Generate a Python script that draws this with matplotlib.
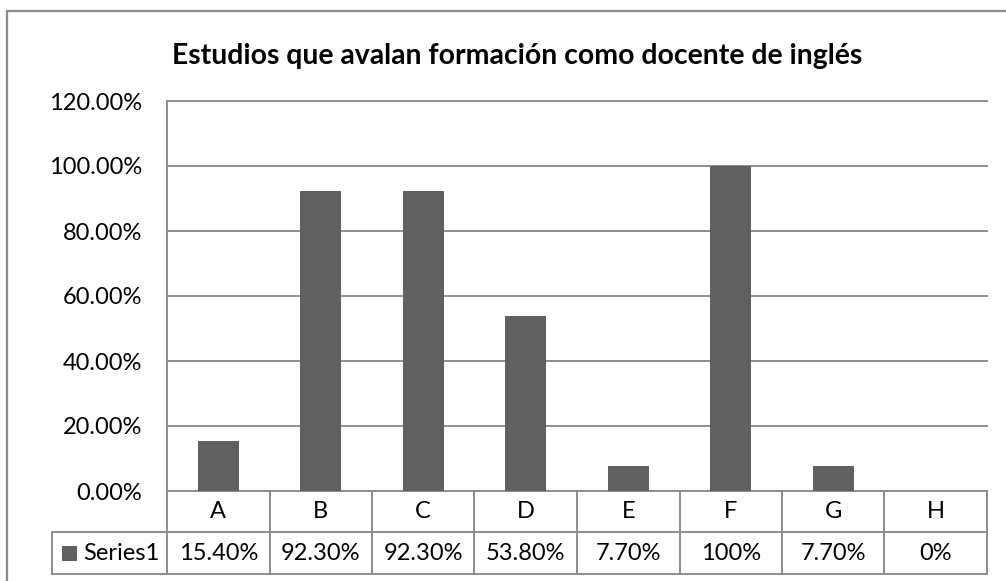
"""Bar chart with data table: estudios que avalan formación como docente de inglés."""

import matplotlib

matplotlib.use("Agg")
import matplotlib.pyplot as plt
from matplotlib.patches import Rectangle
from matplotlib.transforms import blended_transform_factory

plt.rcParams["font.family"] = ["Lato", "DejaVu Sans"]

# Data
categories = ["A", "B", "C", "D", "E", "F", "G", "H"]
values = [0.154, 0.923, 0.923, 0.538, 0.077, 1.00, 0.077, 0.0]
value_labels = ["15.40%", "92.30%", "92.30%", "53.80%", "7.70%", "100%", "7.70%", "0%"]
series_name = "Series1"
y_ticks = [0.0, 0.2, 0.4, 0.6, 0.8, 1.0, 1.2]
title = "Estudios que avalan formación como docente de inglés"

W, H = 1006, 581
BAR_COLOR = "#606060"
LINE_COLOR = "#8c8c8c"

fig = plt.figure(figsize=(W / 100, H / 100), dpi=100)
fig.patch.set_facecolor("white")

# outer chart frame (bottom/right run off the picture)
frame = Rectangle((7 / W, -0.1), 1.2, 1 - 11 / H + 0.1, transform=fig.transFigure,
                  fill=False, edgecolor=LINE_COLOR, linewidth=1.6, clip_on=False)
fig.patches.append(frame)

# plot area
left, right, top, bottom = 167, 987, 101, 491
ax = fig.add_axes([left / W, (H - bottom) / H, (right - left) / W, (bottom - top) / H])
ax.set_xlim(-0.5, len(categories) - 0.5)
ax.set_ylim(0, 1.2)

for t in y_ticks:
    ax.axhline(t, color=LINE_COLOR, linewidth=1.4, zorder=0, clip_on=False)

ax.bar(range(len(categories)), values, width=0.4, color=BAR_COLOR, zorder=2)

ax.set_yticks(y_ticks)
ax.set_yticklabels([f"{t * 100:.2f}%" for t in y_ticks], fontsize=17)
ax.tick_params(axis="y", length=0, pad=18)
ax.set_xticks([])
for side in ["top", "right", "bottom"]:
    ax.spines[side].set_visible(False)
ax.spines["left"].set_color(LINE_COLOR)
ax.spines["left"].set_linewidth(1.4)

fig.text(517 / W, 1 - 56 / H, title, ha="center", va="center", fontsize=20.4, fontweight="bold")

# data table below the axis
trans = blended_transform_factory(ax.transData, ax.transAxes)
plot_w = right - left
plot_h = bottom - top
row1 = -41 / plot_h
row2 = -83 / plot_h
label_x = (52 - left) / plot_w

line_kw = dict(color=LINE_COLOR, linewidth=1.4, clip_on=False)
n = len(categories)
for i in range(n + 1):
    ax.plot([i - 0.5, i - 0.5], [0, row2], transform=trans, **line_kw)
ax.plot([label_x, 1], [row1, row1], transform=ax.transAxes, **line_kw)
ax.plot([label_x, 1], [row2, row2], transform=ax.transAxes, **line_kw)
ax.plot([label_x, label_x], [row1, row2], transform=ax.transAxes, **line_kw)

for i, (cat, lab) in enumerate(zip(categories, value_labels)):
    ax.text(i, row1 / 2, cat, transform=trans, ha="center", va="center", fontsize=17)
    ax.text(i, (row1 + row2) / 2, lab, transform=trans, ha="center", va="center", fontsize=17)

# legend key + series name
key_w = 15 / plot_w
key_h = 15 / plot_h
ax.add_patch(Rectangle((label_x + 10 / plot_w, (row1 + row2) / 2 - key_h / 2), key_w, key_h,
                       transform=ax.transAxes, facecolor=BAR_COLOR, edgecolor="none", clip_on=False))
ax.text(label_x + 31 / plot_w, (row1 + row2) / 2, series_name, transform=ax.transAxes,
        ha="left", va="center", fontsize=17)

fig.savefig("out.png", dpi=100, facecolor="white")
